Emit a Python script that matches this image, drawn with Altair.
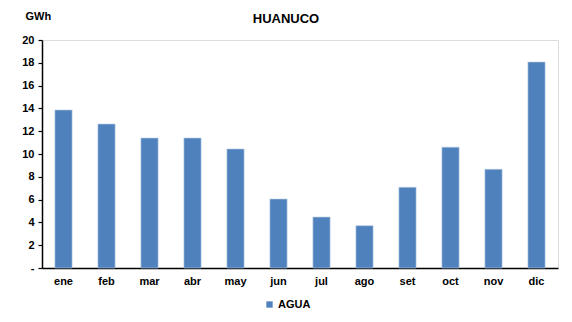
import altair as alt
import pandas as pd

# Monthly hydro generation, Huanuco (GWh)
months = ["ene", "feb", "mar", "abr", "may", "jun", "jul", "ago", "set", "oct", "nov", "dic"]
agua = [13.86, 12.63, 11.4, 11.4, 10.44, 6.05, 4.47, 3.71, 7.08, 10.6, 8.66, 18.07]
series = ["AGUA"] * len(months)

df = pd.DataFrame({"mes": months, "gwh": agua, "fuente": series})

FONT = "Liberation Sans"

bars = alt.Chart(df).mark_bar(stroke="#b8cce4", strokeWidth=0.6).encode(
    x=alt.X(
        "mes:N",
        sort=months,
        scale=alt.Scale(paddingInner=0.6, paddingOuter=0.3),
        axis=alt.Axis(
            title=None, labelAngle=0, ticks=False, domainColor="#000000",
            domainWidth=1.5, labelFont=FONT, labelFontSize=11,
            labelFontWeight="bold", labelColor="#000000", labelPadding=7,
        ),
    ),
    y=alt.Y(
        "gwh:Q",
        scale=alt.Scale(domain=[0, 20]),
        axis=alt.Axis(
            values=list(range(0, 21, 2)), grid=False,
            labelExpr="datum.value == 0 ? '-' : datum.value",
            title="GWh", titleAngle=0, titleX=-17, titleY=-19, titleAlign="left",
            titleFont=FONT, titleFontSize=11, titleFontWeight="bold", titleColor="#000000",
            domainColor="#000000", domainWidth=1.5, tickColor="#000000", tickSize=4,
            tickWidth=1.2, labelFont=FONT, labelFontSize=11, labelFontWeight="bold",
            labelColor="#000000", labelPadding=4,
        ),
    ),
    color=alt.Color(
        "fuente:N",
        scale=alt.Scale(range=["#4f81bd"]),
        legend=alt.Legend(
            title=None, orient="none", legendX=222, legendY=259, symbolType="square",
            symbolSize=40, labelFont=FONT, labelFontSize=11, labelFontWeight="bold",
            labelColor="#000000", symbolStrokeWidth=0, labelOffset=3,
        ),
    ),
)

chart = bars.properties(
    width=516,
    height=228,
    title=alt.TitleParams(
        "HUANUCO", font=FONT, fontSize=13, fontWeight="bold", color="#000000",
        anchor="middle", dx=-14, dy=24, offset=8,
    ),
    autosize=alt.AutoSizeParams(type="none"),
    padding={"left": 42, "top": 40, "right": 14, "bottom": 54},
).configure_view(stroke=None).configure(background="#ffffff")

chart.save("out.html", embed_options={"renderer": "svg", "actions": False})
